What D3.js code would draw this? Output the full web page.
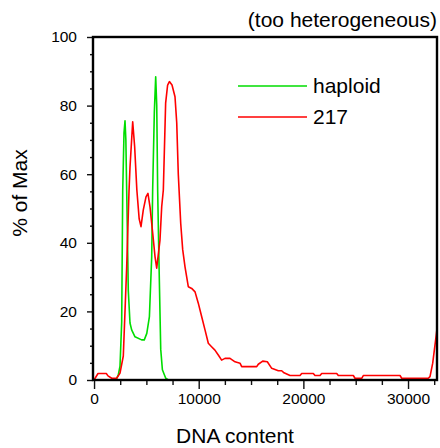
<!DOCTYPE html>
<html><head><meta charset="utf-8">
<script src="https://cdn.jsdelivr.net/npm/d3@7"></script>
<style>
body{margin:0;background:#fff}
text{font-family:"Liberation Sans",Arial,Helvetica,sans-serif;fill:#000}
</style></head>
<body>
<svg id="chart" width="440" height="448"></svg>
<script>
// ---- data ----
const titleText = "(too heterogeneous)";
const xLabelText = "DNA content";
const yLabelText = "% of Max";
const seriesNames = ["haploid", "217"];
const seriesColors = ["#00dd00", "#ff0000"];
const xTickValues = [0, 10000, 20000, 30000];
const yTickValues = [0, 20, 40, 60, 80, 100];

const haploidX = [0, 2000, 2165, 2317, 2480, 2642, 2738, 2862, 2958, 3040, 3120, 3273, 3435, 3594, 3913, 4545, 4800, 5040, 5290, 5510, 5600, 5760, 5890, 5990, 6080, 6200, 6370, 6530, 6850, 7100, 32900];
const haploidY = [0, 0, 0.5, 1.5, 4, 17, 55, 72, 75.6, 70, 55, 26, 16.6, 14.6, 12.6, 11.7, 11.7, 13.6, 18.5, 36, 55.4, 78, 88.4, 80, 55, 35, 9, 3, 0.5, 0, 0];

const s217X = [0, 378, 1171, 1333, 1687, 2165, 2480, 2795, 3120, 3340, 3435, 3693, 3880, 4090, 4310, 4486, 4706, 4964, 5150, 5346, 5604, 5824, 5987, 6300, 6464, 6620, 6840, 7030, 7200, 7450, 7735, 7900, 8050, 8280, 8470, 8691, 9006, 9330, 9650, 9960, 10280, 10602, 10917, 11230, 11550, 11872, 12190, 12510, 12990, 13470, 13946, 14108, 15541, 15694, 16115, 16554, 16975, 17605, 17930, 18150, 18723, 19679, 19841, 20950, 21112, 21590, 21752, 23185, 23339, 24772, 24934, 25574, 25727, 29234, 29396, 31938, 32100, 32358, 32674, 32768];
const s217Y = [0, 1.9, 1.9, 1.2, 0.5, 0.5, 2, 7, 33, 55, 62, 75.3, 68, 55.4, 47, 44.7, 49.6, 53.4, 54.4, 50.5, 42.8, 36, 32.6, 40.8, 50.5, 55.4, 80.7, 86, 87, 86, 82.6, 75, 60, 45.7, 38, 33, 27.2, 26.7, 25.7, 22.4, 18.5, 14.6, 10.7, 9.7, 8.7, 7.3, 5.8, 6.3, 6.3, 5.3, 4.9, 3.9, 3.9, 4.6, 5.5, 5.3, 3.4, 2.7, 2.7, 2.1, 1.3, 1.3, 1.9, 1.9, 1.3, 1.3, 1.9, 1.9, 1.3, 1.3, 0.5, 0.5, 1.3, 1.3, 0.5, 0.5, 1, 4.9, 12.6, 15];

// ---- layout ----
const L = 93, R = 437, T = 37, B = 380;
const svg = d3.select("#chart");
const x = d3.scaleLinear().domain([-100, 32768]).range([L, R]);
const y = d3.scaleLinear().domain([0, 100]).range([B, T]);

svg.append("defs").append("clipPath").attr("id", "plotclip")
  .append("rect").attr("x", L).attr("y", T).attr("width", R - L).attr("height", B - T);

const series = [
  {name: seriesNames[0], color: seriesColors[0], pts: haploidX.map((v, i) => [v, haploidY[i]])},
  {name: seriesNames[1], color: seriesColors[1], pts: s217X.map((v, i) => [v, s217Y[i]])}
];

const line = d3.line().x(d => x(d[0])).y(d => y(d[1]));
const plot = svg.append("g").attr("clip-path", "url(#plotclip)");
series.forEach(s => {
  plot.append("path").datum(s.pts).attr("d", line)
    .attr("fill", "none").attr("stroke", s.color).attr("stroke-width", 1.6)
    .attr("stroke-linejoin", "round");
});

// minor ticks
const xMinor = d3.range(0, 32768, 2500).filter(v => !xTickValues.includes(v));
const yMinor = d3.range(0, 101, 5).filter(v => !yTickValues.includes(v));

const gxMinor = svg.append("g").attr("transform", `translate(0,${B})`)
  .call(d3.axisBottom(x).tickValues(xMinor).tickSize(5).tickFormat(""));
const gx = svg.append("g").attr("transform", `translate(0,${B})`)
  .call(d3.axisBottom(x).tickValues(xTickValues).tickSize(9).tickPadding(4).tickFormat(d3.format("d")));
const gyMinor = svg.append("g").attr("transform", `translate(${L},0)`)
  .call(d3.axisLeft(y).tickValues(yMinor).tickSize(3).tickFormat(""));
const gy = svg.append("g").attr("transform", `translate(${L},0)`)
  .call(d3.axisLeft(y).tickValues(yTickValues).tickSize(6).tickPadding(10).tickFormat(d3.format("d")));

[gxMinor, gx, gyMinor, gy].forEach(g => {
  g.select(".domain").remove();
  g.selectAll(".tick line").attr("stroke", "#111").attr("stroke-width", 1.4);
  g.selectAll(".tick text").attr("font-size", 15.5).attr("fill", "#000")
    .style("font-family", '"Liberation Sans",Arial,sans-serif');
});

// frame
svg.append("rect").attr("x", L).attr("y", T).attr("width", R - L).attr("height", B - T)
  .attr("fill", "none").attr("stroke", "#000").attr("stroke-width", 2.4);

// title
svg.append("text").attr("x", R).attr("y", 27).attr("text-anchor", "end")
  .attr("font-size", 21).text(titleText);

// axis labels
svg.append("text").attr("x", 235).attr("y", 443).attr("text-anchor", "middle")
  .attr("font-size", 21).text(xLabelText);
svg.append("text").attr("transform", "translate(26.5,193) rotate(-90)")
  .attr("text-anchor", "middle").attr("font-size", 21).text(yLabelText);

// legend
const legY = [86, 117];
series.forEach((s, i) => {
  svg.append("line").attr("x1", 238).attr("x2", 307).attr("y1", legY[i]).attr("y2", legY[i])
    .attr("stroke", s.color).attr("stroke-width", 1.6);
  svg.append("text").attr("x", 313).attr("y", legY[i] + 7).attr("font-size", 21).text(s.name);
});
</script>
</body></html>
